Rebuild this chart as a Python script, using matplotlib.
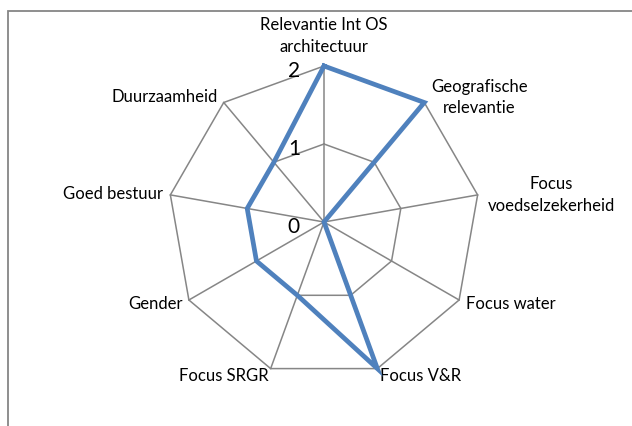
import numpy as np
import matplotlib
matplotlib.use("Agg")
import matplotlib.pyplot as plt
from matplotlib.patches import Rectangle

plt.rcParams['font.family'] = ['Lato', 'DejaVu Sans']

categories = ["Relevantie Int OS\narchitectuur", "Geografische\nrelevantie", "Focus\nvoedselzekerheid",
              "Focus water", "Focus V&R", "Focus SRGR", "Gender", "Goed bestuur", "Duurzaamheid"]
values = [2, 2, 0, 0, 2, 1, 1, 1, 1]
rings = [0, 1, 2]
ring_labels = ["0", "1", "2"]

# label placement (offset pixels, alignment)
label_style = [
    ((0, 30), 'center', 'center'),
    ((55, 5), 'center', 'center'),
    ((74, 0), 'center', 'center'),
    ((7, -4), 'left', 'center'),
    ((3, -7), 'left', 'center'),
    ((-2, -7), 'right', 'center'),
    ((-6, -4), 'right', 'center'),
    ((-7, 1), 'right', 'center'),
    ((-6, 5), 'right', 'center'),
]

W, H = 632, 426
fig = plt.figure(figsize=(W / 100, H / 100), dpi=100)
cx, cy, R = 324, 222, 156
ax = fig.add_axes([(cx - R) / W, (H - cy - R) / H, 2 * R / W, 2 * R / H], projection='polar')
ax.set_theta_zero_location('N')
ax.set_theta_direction(-1)
ax.set_ylim(0, 2)
ax.axis('off')

n = len(categories)
theta = np.arange(n) * 2 * np.pi / n
grid_col = '#868686'
for r in rings[1:]:
    ax.plot(np.append(theta, theta[0]), [r] * (n + 1), color=grid_col, lw=1.1, clip_on=False)
for t in theta:
    ax.plot([t, t], [0, rings[-1]], color=grid_col, lw=1.1, clip_on=False)

ax.plot(np.append(theta, theta[0]), values + [values[0]], color='#4F81BD', lw=3.4,
        solid_joinstyle='miter', clip_on=False, zorder=5)

for t, lab, (off, ha, va) in zip(theta, categories, label_style):
    ax.annotate(lab, xy=(t, rings[-1]), xytext=off, textcoords='offset pixels',
                ha=ha, va=va, fontsize=12, linespacing=1.4, annotation_clip=False)

for r, lab in zip(rings, ring_labels):
    ax.annotate(lab, xy=(0, r), xytext=(-24, -5), textcoords='offset pixels',
                ha='right', va='center', fontsize=15, annotation_clip=False)

fig.patches.append(Rectangle((8 / W, -0.02), 1.05, 1 - 11 / H + 0.02, transform=fig.transFigure,
                             fill=False, edgecolor=grid_col, lw=1.3))

fig.savefig('out.png', dpi=100)
